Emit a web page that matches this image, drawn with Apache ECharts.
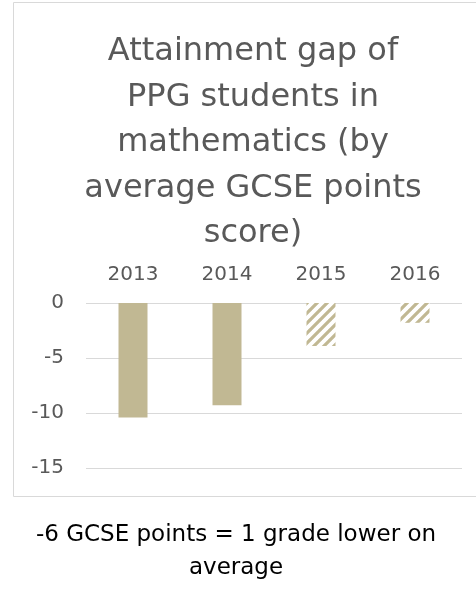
<!DOCTYPE html>
<html>
<head>
<meta charset="utf-8">
<script src="https://cdn.jsdelivr.net/npm/echarts@6/dist/echarts.min.js"></script>
<style>
  html, body { margin: 0; padding: 0; background: #fff; }
  #chart { width: 476px; height: 597px; }
</style>
</head>
<body>
<div id="chart"></div>
<script>
// data
var years = ["2013", "2014", "2015", "2016"];
var gapValues = [-10.4, -9.3, -3.9, -1.8];
var hatched = [false, false, true, true]; // 2015/2016 drawn striped
var yTicks = [0, -5, -10, -15];

var barColor = "#c1b893";

// diagonal stripe pattern for the hatched bars ("/" direction, tileable)
function makeStripes() {
  var s = 10;
  var c = document.createElement("canvas");
  c.width = s;
  c.height = s;
  var ctx = c.getContext("2d");
  ctx.fillStyle = "#fff";
  ctx.fillRect(0, 0, s, s);
  ctx.strokeStyle = barColor;
  ctx.lineWidth = 3.2;
  ctx.beginPath();
  for (var k = -1; k <= 1; k++) {
    ctx.moveTo(k * s - 1, s + 1);
    ctx.lineTo(k * s + s + 1, -1);
  }
  ctx.stroke();
  return c;
}
var stripes = makeStripes();

var myChart = echarts.init(document.getElementById("chart"));
myChart.setOption({
  animation: false,
  textStyle: { fontFamily: "DejaVu Sans" },
  title: {
    text: "Attainment gap of\nPPG students in\nmathematics (by\naverage GCSE points\nscore)",
    left: 248,
    top: 24,
    textAlign: "center",
    textStyle: {
      color: "#595959",
      fontSize: 32,
      fontWeight: "normal",
      lineHeight: 45.5,
      fontFamily: "DejaVu Sans"
    }
  },
  graphic: [
    {
      type: "rect",
      shape: { x: 13.5, y: 2.5, width: 480, height: 494 },
      style: { fill: "none", stroke: "#d9d9d9", lineWidth: 1 },
      silent: true
    },
    {
      type: "text",
      x: 236,
      y: 519,
      style: {
        text: "-6 GCSE points = 1 grade lower on\naverage",
        fill: "#000",
        font: "23px DejaVu Sans",
        lineHeight: 33,
        align: "center",
        verticalAlign: "top"
      }
    }
  ],
  grid: {
    left: 86,
    right: 14,
    top: 303,
    bottom: 129
  },
  xAxis: {
    type: "category",
    position: "top",
    data: years,
    axisLine: { show: false },
    axisTick: { show: false },
    axisLabel: {
      color: "#595959",
      fontSize: 20,
      margin: 18
    }
  },
  yAxis: {
    type: "value",
    min: -15,
    max: 0,
    interval: 5,
    axisLine: { show: false },
    axisTick: { show: false },
    axisLabel: {
      color: "#595959",
      fontSize: 20,
      margin: 22
    },
    splitLine: { lineStyle: { color: "#d9d9d9", width: 1 } }
  },
  series: [
    {
      type: "bar",
      barWidth: 29,
      data: gapValues.map(function (v, i) {
        return {
          value: v,
          itemStyle: {
            color: hatched[i] ? { image: stripes, repeat: "repeat" } : barColor
          }
        };
      })
    }
  ]
});
</script>
</body>
</html>
